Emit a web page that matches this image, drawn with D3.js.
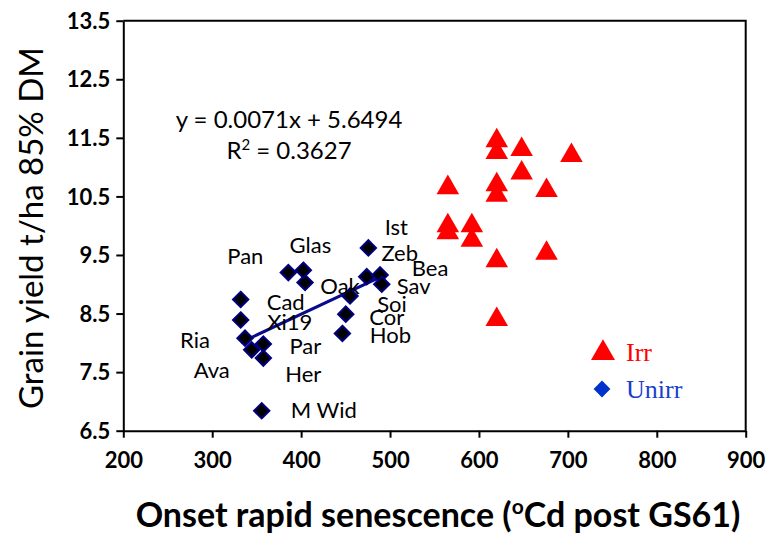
<!DOCTYPE html>
<html><head><meta charset="utf-8">
<script src="https://cdn.jsdelivr.net/npm/d3@7"></script>
<style>body{margin:0;background:#fff}svg{display:block}</style>
</head><body>
<svg id="c" width="769" height="535"></svg>
<script>
// ---- data ----
const unirrNames = ["Ist","Zeb","Bea","Sav","Oak","Soi","Cor","Hob","Pan","Glas","Cad","Xi19","Ria","Par","Ava","Her","M Wid"];
const unirrX = [475.6,473.8,488.8,490.7,404.4,455.0,450.2,446.4,385.6,402.5,332.0,332.0,336.9,357.5,344.4,357.5,355.7];
const unirrY = [9.62,9.13,9.16,9.00,9.03,8.80,8.49,8.16,9.20,9.24,8.74,8.39,8.08,7.98,7.88,7.74,6.84];
const irrX = [620,620,648,704,648,620,620,565,676,565,565,592,592,620,676,620];
const irrY = [11.45,11.25,11.3,11.2,10.9,10.7,10.52,10.65,10.6,10.0,9.88,10.0,9.75,9.4,9.53,8.4];
const xTicks = [200,300,400,500,600,700,800,900];
const yTicks = [6.5,7.5,8.5,9.5,10.5,11.5,12.5,13.5];
const slope = 0.0071, intercept = 5.6494;
const eqText = "y = 0.0071x + 5.6494";
const r2Value = "0.3627";
const legendNames = ["Irr","Unirr"];

// ---- layout ----
const labelOffsets = {
  "Ist":[28,-21],"Zeb":[33,-23],"Bea":[50,-7],"Sav":[32,2],"Oak":[35,4],"Soi":[42,8],
  "Cor":[41,3],"Hob":[48,2],"Pan":[-43,-16],"Glas":[7,-25],"Cad":[45,3],"Xi19":[49,2],
  "Ria":[-50,2],"Par":[42,2],"Ava":[-40,20],"Her":[40,16],"M Wid":[62,0]
};
const svg = d3.select("#c");
const x = d3.scaleLinear().domain([200,900]).range([123.3,745.7]);
const y = d3.scaleLinear().domain([6.5,13.5]).range([430.7,20.7]);
const FONT = "Lato, 'Open Sans', sans-serif";

// frame top/right
svg.append("path").attr("d",`M${x(200)},${y(13.5)}H${x(900)}V${y(6.5)}`)
  .attr("fill","none").attr("stroke","#000").attr("stroke-width",2);

const gx = svg.append("g").attr("transform",`translate(0,${y(6.5)})`)
  .call(d3.axisBottom(x).tickValues(xTicks).tickSize(7).tickSizeOuter(0).tickPadding(15));
const gy = svg.append("g").attr("transform",`translate(${x(200)},0)`)
  .call(d3.axisLeft(y).tickValues(yTicks).tickSize(7).tickSizeOuter(0).tickPadding(6).tickFormat(d3.format(".1f")));
[gx,gy].forEach(g=>{
  g.selectAll(".domain").attr("stroke","#000").attr("stroke-width",2);
  g.selectAll(".tick line").attr("stroke","#000").attr("stroke-width",2);
  g.selectAll("text").attr("font-family",FONT).attr("font-weight","bold").attr("font-size",22).attr("fill","#000");
});
gy.selectAll("text").attr("dy","0.35em");

// axis titles
svg.append("text").attr("transform",`translate(43,228) rotate(-90)`).attr("text-anchor","middle")
  .attr("font-family",FONT).attr("font-size",33).attr("fill","#000").text("Grain yield t/ha 85% DM");
const xt = svg.append("text").attr("x",438).attr("y",527).attr("text-anchor","middle")
  .attr("font-family",FONT).attr("font-size",34).attr("font-weight","bold").attr("fill","#000");
xt.append("tspan").text("Onset rapid senescence (");
xt.append("tspan").attr("font-size",21).attr("dy",-13).text("o");
xt.append("tspan").attr("dy",13).text("Cd post GS61)");

// regression line
const ux = d3.extent(unirrX);
svg.append("line").attr("x1",x(ux[0])).attr("y1",y(slope*ux[0]+intercept))
  .attr("x2",x(ux[1])).attr("y2",y(slope*ux[1]+intercept))
  .attr("stroke","#0a0a8c").attr("stroke-width",3);

// equation
svg.append("text").attr("x",289).attr("y",128).attr("text-anchor","middle")
  .attr("font-family",FONT).attr("font-size",24).attr("fill","#000").text(eqText);
const r2 = svg.append("text").attr("x",289).attr("y",159).attr("text-anchor","middle")
  .attr("font-family",FONT).attr("font-size",24).attr("fill","#000");
r2.append("tspan").text("R");
r2.append("tspan").attr("font-size",15).attr("dy",-9).text("2");
r2.append("tspan").attr("dy",9).text(" = " + r2Value);

// irrigated triangles
const tri = d3.symbol().type(d3.symbolTriangle).size(220);
svg.append("g").selectAll("path").data(irrX.map((v,i)=>[v,irrY[i]])).join("path")
  .attr("d",tri).attr("transform",d=>`translate(${x(d[0])},${y(d[1])})`).attr("fill","#ff0000");

// unirrigated diamonds
const dia = d3.symbol().type(d3.symbolDiamond2).size(150);
const up = unirrX.map((v,i)=>({x:v,y:unirrY[i],n:unirrNames[i]}));
svg.append("g").selectAll("path").data(up).join("path")
  .attr("d",dia).attr("transform",d=>`translate(${x(d.x)},${y(d.y)})`)
  .attr("fill","#000").attr("stroke","#000080").attr("stroke-width",2);

// labels
svg.append("g").selectAll("text").data(up).join("text")
  .attr("x",d=>x(d.x)+labelOffsets[d.n][0]).attr("y",d=>y(d.y)+labelOffsets[d.n][1])
  .attr("text-anchor","middle").attr("dy","0.35em")
  .attr("font-family",FONT).attr("font-size",22).attr("fill","#000").text(d=>d.n);

// legend
const lg = svg.append("g");
lg.append("path").attr("d",d3.symbol().type(d3.symbolTriangle).size(250)).attr("transform","translate(603,353)").attr("fill","#ff0000");
lg.append("text").attr("x",626).attr("y",361).attr("font-family","'Liberation Serif', serif").attr("font-size",26).attr("fill","#ff0000").text(legendNames[0]);
lg.append("path").attr("d",d3.symbol().type(d3.symbolDiamond2).size(180)).attr("transform","translate(602,389)").attr("fill","#0033cc");
lg.append("text").attr("x",626).attr("y",398).attr("font-family","'Liberation Serif', serif").attr("font-size",26).attr("fill","#1a3fcc").text(legendNames[1]);
</script>
</body></html>
